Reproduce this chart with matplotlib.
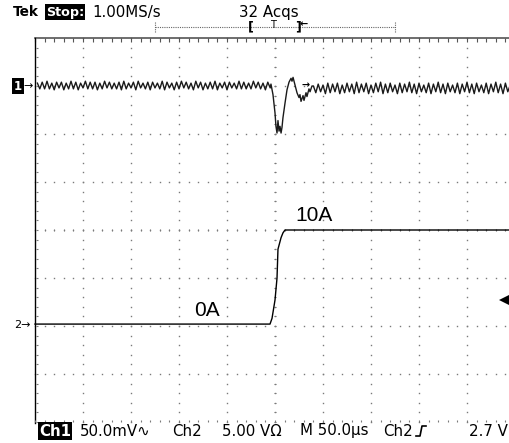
import numpy as np
import matplotlib.pyplot as plt

# Ecran Tek : 10 x 8 divisions, 48 px par division
W, H = 509, 443
ux0, uy0, dv = 275, 230, 48      # centre de l'ecran en pixels

us_div = 50.0      # M 50.0us
mv_div = 50.0      # Ch1 50.0mV
a_div = 5.0        # Ch2 5.00 V -> 5 A/div
ch1_gnd = 3.0      # repere "1->"
ch2_gnd = -2.0     # repere "2->"

# Ch1 (mV) : bruit avant le creux
ch1_pre_t = np.arange(-247.5, -4.9, 2.5)
ch1_pre = [
    3, -3, 4, -3, 5, -3, 3, -4, 4, -2,
    4, -4, 3, -3, 5, -3, 4, -4, 3, -2,
    5, -3, 4, -3, 4, -4, 3, -3, 5, -2,
    4, -3, 3, -3, 4, -4, 5, -3, 3, -2,
    4, -4, 5, -2, 3, -3, 4, -4, 4, -2,
    3, -3, 5, -4, 4, -2, 3, -4, 4, -3,
    5, -2, 4, -3, 3, -4, 5, -2, 4, -4,
    3, -3, 4, -3, 5, -4, 3, -2, 4, -4,
    4, -2, 3, -3, 5, -3, 4, -3, 3, -3,
    5, -2, 4, -3, 3, -4, 4, -2]

# Ch1 (mV) : creux au moment du front
ch1_dip_t = [-4.2, -2.1, 0.0, 1.0, 2.1, 3.1, 4.2, 5.2, 6.3, 7.3, 8.3, 10.4,
             12.5, 14.6, 16.7, 17.7, 18.8, 20.8, 22.9, 25.0, 26.0, 27.1,
             29.2, 30.2, 32.3, 33.3, 35.4, 36.5, 38.5]
ch1_dip = [2, -9, -28, -42, -49, -36, -47, -42, -49, -43, -33, -18,
           -4, 4, 8, 5, 9, 1, -7, -12, -9, -16,
           -10, -15, -7, -11, -3, -6, 0]

# Ch1 (mV) : bruit apres le creux
ch1_post_t = np.arange(40.0, 245.1, 2.5)
ch1_post = [
    0, -7, 2, -6, 1, -8, 3, -7, 2, -6,
    3, -8, 1, -7, 3, -6, 2, -8, 4, -7,
    2, -6, 3, -8, 1, -7, 3, -6, 4, -8,
    2, -7, 3, -6, 1, -8, 3, -7, 2, -6,
    4, -7, 2, -8, 3, -6, 1, -7, 3, -8,
    2, -6, 4, -7, 2, -8, 3, -6, 1, -7,
    3, -8, 2, -6, 4, -7, 2, -8, 3, -6,
    1, -7, 3, -8, 2, -6, 4, -7, 2, -8,
    3, -6, 1]

# Ch2 (A) : echelon de courant 0A -> 10A
ch2_t = [-250, -5.2, -3.1, 0.0, 2.1, 3.1, 6.3, 8.3, 10.4, 245]
ch2_a = [0.2, 0.2, 0.8, 2.7, 5.0, 8.0, 9.2, 9.7, 10.0, 10.0]

trig_level = 2.7   # V sur Ch2


def px(x):
    return (x - ux0) / dv


def py(y):
    return (uy0 - y) / dv


fig = plt.figure(figsize=(W / 100, H / 100), dpi=100)
ax = fig.add_axes([0, 0, 1, 1])
ax.set_xlim(px(0), px(W))
ax.set_ylim(py(H), py(0))
ax.axis('off')

grid_c = '#7a7a7a'
sub = np.arange(-5, 5.01, 0.2)
sub_y = np.arange(-4, 4.01, 0.2)

# lignes pointillees de la grille
for gx in range(-4, 5):
    ax.plot(np.full(sub_y.size, gx), sub_y, ls='none', marker='s', ms=1.0, mew=0, color=grid_c)
for gy in range(-3, 4):
    ax.plot(sub, np.full(sub.size, gy), ls='none', marker='s', ms=1.0, mew=0, color=grid_c)

# axes centraux avec petites graduations
ax.plot(sub, np.zeros(sub.size), ls='none', marker='|', ms=1.6, mew=0.7, color=grid_c)
ax.plot(np.zeros(sub_y.size), sub_y, ls='none', marker='_', ms=1.6, mew=0.7, color=grid_c)

# bords
ax.plot([-5, 5], [4, 4], color='#555555', lw=1.2)
ax.plot(sub, np.full(sub.size, 4 - 0.04), ls='none', marker='|', ms=2.5, mew=0.8, color='#555555')
ax.plot([-5, -5], [-4.02, 4], color='black', lw=1.0)
ax.plot(np.full(sub_y.size, -5 + 0.05), sub_y, ls='none', marker='_', ms=2.0, mew=0.8, color=grid_c)
ax.plot(sub, np.full(sub.size, -4 + 0.03), ls='none', marker='|', ms=2.0, mew=0.8, color=grid_c)

# traces
t1 = np.concatenate([ch1_pre_t, ch1_dip_t, ch1_post_t]) / us_div
v1 = ch1_gnd + np.concatenate([ch1_pre, ch1_dip, ch1_post]) / mv_div
ax.plot(t1, v1, color='#1a1a1a', lw=1.0)
ax.plot(np.array(ch2_t) / us_div, ch2_gnd + np.array(ch2_a) / a_div, color='black', lw=1.0)

# reperes des voies et du declenchement
ax.text(px(14), py(86), '1', color='white', fontsize=8.5, fontweight='bold', va='center', ha='left',
        bbox=dict(facecolor='black', edgecolor='none', pad=1.2))
ax.text(px(23), py(86), '→', color='black', fontsize=8, va='center', ha='left')
ax.text(px(14), py(325), '2→', color='black', fontsize=8, va='center', ha='left')
ax.plot(px(504), ch2_gnd + trig_level / a_div, marker='<', ms=6.5, color='black', mew=0)
ax.text(px(302), py(85), '→', color='black', fontsize=7, fontweight='bold', va='center', ha='left')

# etiquettes
ax.text(px(194), py(310), '0A', fontsize=15, family='Liberation Sans', va='center', ha='left')
ax.text(px(295), py(215), '10A', fontsize=15, family='Liberation Sans', va='center', ha='left')

# bandeau du haut
fs = 10.8
ax.text(px(13), py(12), 'Tek', fontsize=9.8, fontweight='bold', va='center', ha='left')
ax.text(px(46), py(12), 'Stop:', fontsize=9.2, fontweight='bold', color='white', va='center', ha='left',
        bbox=dict(facecolor='black', edgecolor='none', pad=0.8))
ax.text(px(92), py(12), '1.00MS/s', fontsize=fs, va='center', ha='left')
ax.text(px(239), py(12), '32 Acqs', fontsize=fs, va='center', ha='left')
ax.plot([px(155), px(395)], [py(27), py(27)], color='#666666', lw=0.8, ls=(0, (1, 1)))
for xe in (155, 395):
    ax.plot([px(xe), px(xe)], [py(22), py(32)], color='#666666', lw=0.8, ls=(0, (1, 1)))
ax.text(px(248), py(27), '[', fontsize=9, fontweight='bold', va='center', ha='left')
ax.text(px(295), py(27), ']', fontsize=9, fontweight='bold', va='center', ha='left')
ax.text(px(273), py(25), 'T', fontsize=7, va='center', ha='center')
ax.text(px(300), py(24), '←', fontsize=7, fontweight='bold', va='center', ha='left')

# bandeau du bas
yb = py(431)
ax.text(px(39), yb, 'Ch1', fontsize=fs, fontweight='bold', color='white', va='center', ha='left',
        bbox=dict(facecolor='black', edgecolor='none', pad=0.8))
ax.text(px(80), yb, '50.0mV∿', fontsize=fs, va='center', ha='left')
ax.text(px(172), yb, 'Ch2', fontsize=fs, va='center', ha='left')
ax.text(px(222), yb, '5.00 VΩ', fontsize=fs, va='center', ha='left')
ax.text(px(300), yb, 'M 50.0µs', fontsize=fs, va='center', ha='left')
ax.text(px(383), yb, 'Ch2', fontsize=fs, va='center', ha='left')
ax.plot([px(416), px(420), px(422), px(426)], [py(436), py(436), py(426), py(426)], color='black', lw=1.2)
ax.text(px(508), yb, '2.7 V', fontsize=fs, va='center', ha='right')

fig.savefig('out.png', dpi=100)
